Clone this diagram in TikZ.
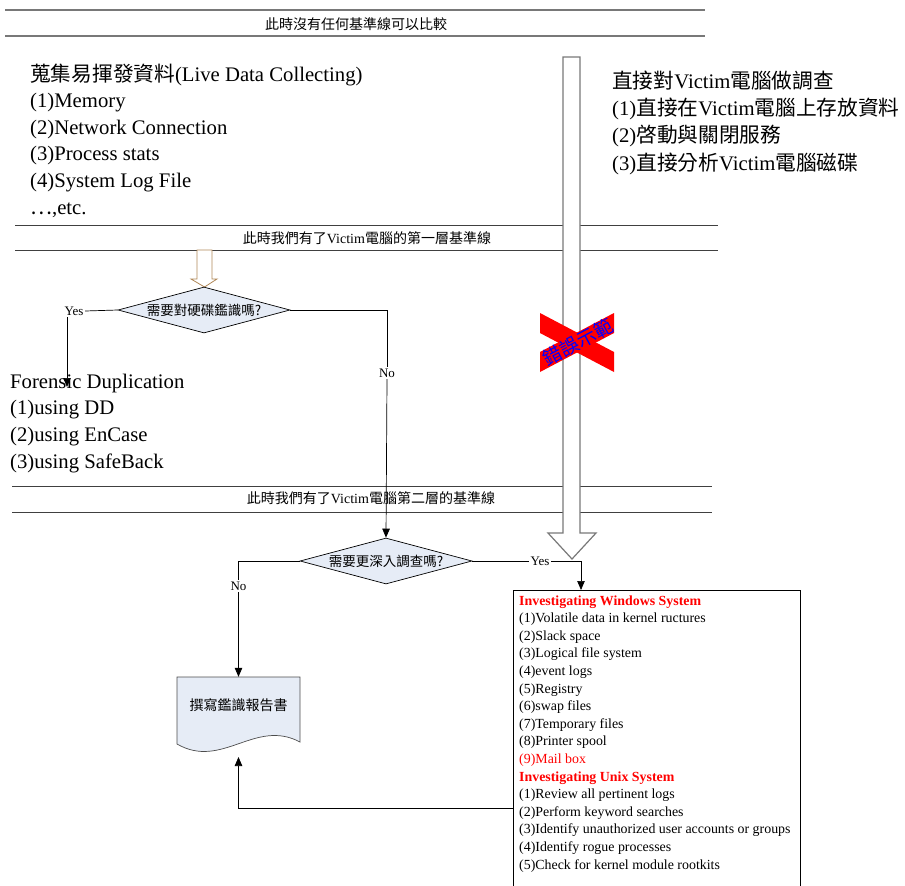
\documentclass[tikz,border=0pt]{standalone}
\usepackage{fontspec}
\setmainfont{Liberation Serif}
\newfontfamily\cjkfont{Noto Sans CJK TC}
\usepackage{xcolor}
\usetikzlibrary{arrows.meta, positioning, shapes.geometric, calc}

\definecolor{decfill}{RGB}{230,236,246}
\definecolor{rulegray}{RGB}{120,120,120}
\definecolor{arrowtan}{RGB}{176,136,88}

\begin{document}
\begin{tikzpicture}[
    x=1pt, y=-1pt,
    ruleline/.style={draw=black!75, line width=0.9pt},
    toprule/.style={draw=rulegray, line width=1.6pt},
    ruletext/.style={inner sep=0pt, font=\fontsize{14}{16}\selectfont},
    bigtext/.style={anchor=base west, align=left, inner sep=0pt, font=\fontsize{20.7}{26.6}\selectfont},
    boxtext/.style={anchor=base west, align=left, inner sep=0pt, font=\fontsize{13.9}{17.6}\selectfont},
    decision/.style={diamond, aspect=3.74, minimum width=172, minimum height=46, inner sep=0pt, draw=black, line width=0.7pt, fill=decfill, font=\cjkfont\fontsize{13.5}{15}\selectfont},
    yesno/.style={inner sep=1.5pt, font=\fontsize{13}{15}\selectfont},
    line/.style={draw=black, line width=0.7pt, -{Triangle[length=9pt, width=7.5pt]}},
    link/.style={draw=black, line width=0.7pt}
]
    \useasboundingbox (0,0) rectangle (905,886);

    % baselines
    \draw[toprule] (5,10) -- (705,10);
    \draw[toprule] (5,36) -- (705,36);
    \node[ruletext] (rule0) at (356,24) {\cjkfont 此時沒有任何基準線可以比較};
    \draw[ruleline] (15,225) -- (718,225);
    \draw[ruleline] (15,250) -- (718,250);
    \node[ruletext] (rule1) at (367,238) {{\cjkfont 此時我們有了}Victim{\cjkfont 電腦的第一層基準線}};
    \draw[ruleline] (12,486) -- (712,486);
    \draw[ruleline] (12,512) -- (712,512);
    \node[ruletext] (rule2) at (371,498) {{\cjkfont 此時我們有了}Victim{\cjkfont 電腦第二層的基準線}};

    % text blocks (anchored at the last line)
    \node[bigtext] (live) at (30,214) {{\cjkfont 蒐集易揮發資料}(Live Data Collecting)\\(1)Memory\\(2)Network Connection\\(3)Process stats\\(4)System Log File\\{\cjkfont …},etc.};
    \node[bigtext, font=\fontsize{20.7}{27.3}\selectfont] (direct) at (612,170) {{\cjkfont 直接對}Victim{\cjkfont 電腦做調查}\\(1){\cjkfont 直接在}Victim{\cjkfont 電腦上存放資料}\\(2){\cjkfont 啓動與關閉服務}\\(3){\cjkfont 直接分析}Victim{\cjkfont 電腦磁碟}};
    \node[bigtext] (forensic) at (10,468) {Forensic Duplication\\(1)using DD\\(2)using EnCase\\(3)using SafeBack};

    % hollow arrows
    \draw[draw=arrowtan, fill=white, line width=0.8pt] (197,250) -- (212,250) -- (212,279) -- (217,279) -- (204.5,287) -- (191,279) -- (197,279) -- cycle;
    \draw[draw=rulegray, fill=white, line width=1.2pt] (563,57) -- (580,57) -- (580,533) -- (596,533) -- (572,559) -- (548,533) -- (563,533) -- cycle;

    % wrong way mark
    \fill[red] (540,313) -- (614,352) -- (614,372) -- (540,333) -- cycle;
    \fill[red] (614,313) -- (540,352) -- (540,372) -- (614,333) -- cycle;
    \node[rotate=28, text=blue, inner sep=0pt, font=\cjkfont\fontsize{19}{20}\selectfont] (wrong) at (578,342) {錯誤示範};

    % decisions
    \node[decision] (dec1) at (204,310) {需要對硬碟鑑識嗎?};
    \node[decision] (dec2) at (386,561) {需要更深入調查嗎?};

    % report document
    \draw[fill=decfill, draw=black!70, line width=0.7pt] (177,677) -- (300,677) -- (300,742) .. controls (255,718) and (222,770) .. (177,744) -- cycle;
    \node[inner sep=0pt, minimum width=123, minimum height=56, font=\cjkfont\fontsize{14}{16}\selectfont] (report) at (238.5,705) {撰寫鑑識報告書};
    \coordinate (reportin) at (238.5,757);

    % investigation box
    \node[draw=black, line width=0.8pt, anchor=north west, minimum width=287, minimum height=300, inner sep=0pt] (detail) at (513,590) {};
    \node[boxtext] (detailtext) at (519,869) {\textcolor{red}{\textbf{Investigating Windows System}}\\(1)Volatile data in kernel ructures\\(2)Slack space\\(3)Logical file system\\(4)event logs\\(5)Registry\\(6)swap files\\(7)Temporary files\\(8)Printer spool\\\textcolor{red}{(9)Mail box}\\\textcolor{red}{\textbf{Investigating Unix System}}\\(1)Review all pertinent logs\\(2)Perform keyword searches\\(3)Identify unauthorized user accounts or groups\\(4)Identify rogue processes\\(5)Check for kernel module rootkits};

    % labels
    \node[yesno] (yes1) at (74,311) {Yes};
    \node[yesno, fill=white] (no1) at (387,373) {No};
    \node[yesno] (yes2) at (540,561) {Yes};
    \node[yesno, fill=white] (no2) at (238.5,586) {No};
    \coordinate (forensictop) at (67,387);

    % Connectors
    \draw[link] (dec1.west) -- (yes1.east);
    \draw[line] ([xshift=-7pt]yes1.south) -- (forensictop);
    \draw[link] (dec1.east) -| (no1.north);
    \draw[line] (no1.south) -- (dec2.north);
    \draw[link] (dec2.east) -- (yes2.west);
    \draw[line] (yes2.east) -| ([xshift=68pt]detail.north west);
    \draw[link] (dec2.west) -| (no2.north);
    \draw[line] (no2.south) -- (report.north);
    \draw[line] ([yshift=-218pt]detail.north west) -| (reportin);
\end{tikzpicture}
\end{document}
